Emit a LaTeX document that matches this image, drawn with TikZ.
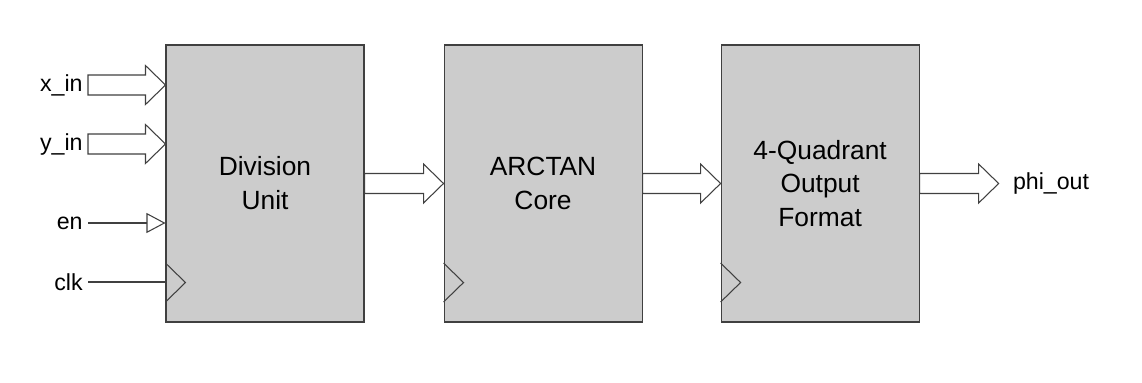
\documentclass[tikz,border=0pt]{standalone}
\usepackage{fontspec}
\setmainfont{Liberation Sans}
\usetikzlibrary{positioning,calc,arrows.meta}
\newcommand{\busarrow}[2]{%
  \draw[bus] let \p1=(#1), \p2=(#2) in
    (\x1,\y1+0.2cm) -- (\x2-0.4cm,\y1+0.2cm) -- (\x2-0.4cm,\y1+0.39cm) -- (\x2,\y1)
    -- (\x2-0.4cm,\y1-0.39cm) -- (\x2-0.4cm,\y1-0.2cm) -- (\x1,\y1-0.2cm) -- cycle;}
\begin{document}
\begin{tikzpicture}[x=1cm,y=1cm,
  block/.style={draw=black!75, fill=black!20, line width=0.6pt, minimum width=3.96cm,
    minimum height=5.54cm, align=center, inner sep=0pt,
    font=\fontsize{15pt}{19.3pt}\selectfont},
  sig/.style={font=\fontsize{13.2pt}{16pt}\selectfont, inner sep=0.1cm},
  bus/.style={draw=black!75, fill=white, line width=0.6pt},
  wire/.style={draw=black!75, line width=0.6pt}]
\useasboundingbox (0,0) rectangle (22.84,7.64);
\node[block] (div) at (5.30,3.97) {Division\\Unit};
\node[block, right=1.58cm of div] (atan) {ARCTAN\\Core};
\node[block, right=1.56cm of atan] (quad) {4-Quadrant\\Output\\Format};
\node[sig, anchor=east] (xin) at (1.76,5.94) {x\_in};
\node[sig, anchor=east] (yin) at (1.76,4.76) {y\_in};
\node[sig, anchor=east] (en) at (1.76,3.18) {en};
\node[sig, anchor=east] (clk) at (1.76,2.00) {clk};
\coordinate (phi) at ($(quad.east)+(1.58,0)$);
\node[sig, right=0.18cm of phi] (phiout) {phi\_out};
\busarrow{xin.east}{div.west |- xin.east}
\busarrow{yin.east}{div.west |- yin.east}
\draw[wire, -{Triangle[length=0.38cm,width=0.4cm,fill=white]}] (en.east) -- (div.west |- en.east);
\draw[wire] (clk.east) -- (div.west |- clk.east);
\foreach \b in {div,atan,quad}
  \draw[wire] ($(\b.south west)+(0,1.19)$) -- ++(0.4,-0.39) -- ++(-0.4,-0.39);
\busarrow{div.east}{atan.west}
\busarrow{atan.east}{quad.west}
\busarrow{quad.east}{phi}
\end{tikzpicture}
\end{document}
